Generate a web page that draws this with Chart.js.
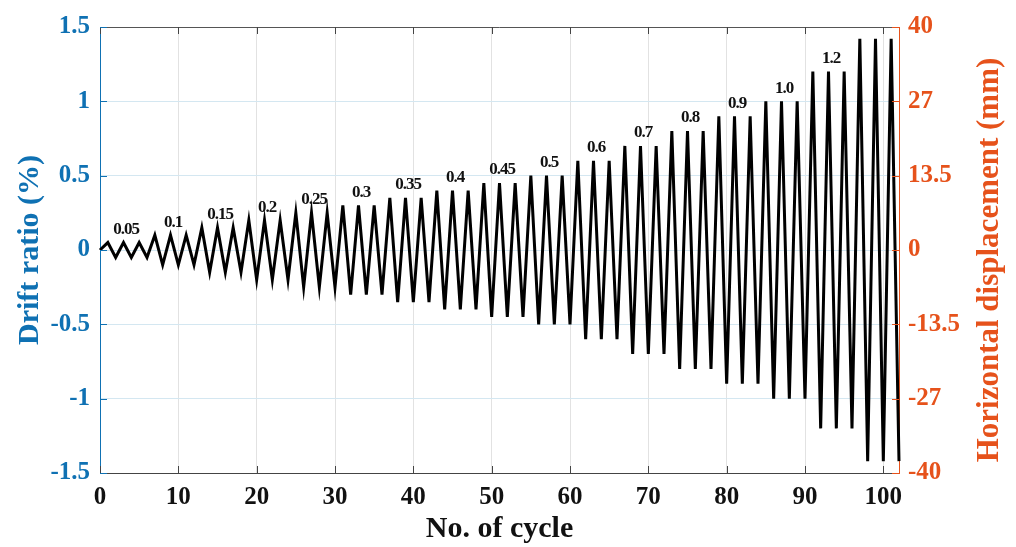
<!DOCTYPE html>
<html>
<head>
<meta charset="utf-8">
<script src="https://cdn.jsdelivr.net/npm/chart.js@4.4.1/dist/chart.umd.min.js"></script>
<style>
  html, body { margin: 0; padding: 0; background: #fff; }
  #wrap { width: 1016px; height: 547px; }
</style>
</head>
<body>
<div id="wrap"><canvas id="protocolChart" width="1016" height="547"></canvas></div>
<script>
// Drift ratio (%) at every half-cycle turning point, one row per loading level
const driftPeaks = [
  0,
  0.05, -0.05, 0.05, -0.05, 0.05, -0.05,
  0.1, -0.1, 0.1, -0.1, 0.1, -0.1,
  0.15, -0.15, 0.15, -0.15, 0.15, -0.15,
  0.2, -0.2, 0.2, -0.2, 0.2, -0.2,
  0.25, -0.25, 0.25, -0.25, 0.25, -0.25,
  0.3, -0.3, 0.3, -0.3, 0.3, -0.3,
  0.35, -0.35, 0.35, -0.35, 0.35, -0.35,
  0.4, -0.4, 0.4, -0.4, 0.4, -0.4,
  0.45, -0.45, 0.45, -0.45, 0.45, -0.45,
  0.5, -0.5, 0.5, -0.5, 0.5, -0.5,
  0.6, -0.6, 0.6, -0.6, 0.6, -0.6,
  0.7, -0.7, 0.7, -0.7, 0.7, -0.7,
  0.8, -0.8, 0.8, -0.8, 0.8, -0.8,
  0.9, -0.9, 0.9, -0.9, 0.9, -0.9,
  1.0, -1.0, 1.0, -1.0, 1.0, -1.0,
  1.2, -1.2, 1.2, -1.2, 1.2, -1.2,
  1.42, -1.42, 1.42, -1.42, 1.42, -1.42
];

// level annotations, written over the middle peak of each level
const levelNames = ["0.05", "0.1", "0.15", "0.2", "0.25", "0.3", "0.35", "0.4",
  "0.45", "0.5", "0.6", "0.7", "0.8", "0.9", "1.0", "1.2"];
const levelValues = [0.05, 0.1, 0.15, 0.2, 0.25, 0.3, 0.35, 0.4,
  0.45, 0.5, 0.6, 0.7, 0.8, 0.9, 1.0, 1.2];
const levelCycles = [3, 9, 15, 21, 27, 33, 39, 45, 51, 57, 63, 69, 75, 81, 87, 93];

const cycleTicks = [0, 10, 20, 30, 40, 50, 60, 70, 80, 90, 100];
const driftTicks = [-1.5, -1, -0.5, 0, 0.5, 1, 1.5];
const driftTickLabels = ["-1.5", "-1", "-0.5", "0", "0.5", "1", "1.5"];
const dispTicks = [-40.5, -27, -13.5, 0, 13.5, 27, 40.5];
const dispTickLabels = ["-40", "-27", "-13.5", "0", "13.5", "27", "40"];

const SERIF = "'Liberation Serif', 'Times New Roman', serif";
const BLUE = "#0f71b3";
const ORANGE = "#e6521b";

const points = driftPeaks.map((v, i) => ({ x: i, y: v }));

// inward tick marks, top frame line and the right-hand title
const framePlugin = {
  id: "frame",
  afterDraw(chart) {
    const { ctx, chartArea: a, scales } = chart;
    ctx.save();
    ctx.lineWidth = 1;

    ctx.strokeStyle = "#555";
    ctx.beginPath();
    ctx.moveTo(a.left, a.top + 0.5);
    ctx.lineTo(a.right, a.top + 0.5);
    ctx.stroke();

    ctx.strokeStyle = "#444";
    cycleTicks.forEach(v => {
      const px = Math.round(scales.x.getPixelForValue(v)) + 0.5;
      ctx.beginPath();
      ctx.moveTo(px, a.bottom);
      ctx.lineTo(px, a.bottom - 7);
      ctx.moveTo(px, a.top);
      ctx.lineTo(px, a.top + 7);
      ctx.stroke();
    });

    ctx.strokeStyle = BLUE;
    driftTicks.forEach(v => {
      const py = Math.round(scales.y.getPixelForValue(v)) + 0.5;
      ctx.beginPath();
      ctx.moveTo(a.left, py);
      ctx.lineTo(a.left + 7, py);
      ctx.stroke();
    });

    ctx.strokeStyle = ORANGE;
    dispTicks.forEach(v => {
      const py = Math.round(scales.y2.getPixelForValue(v)) + 0.5;
      ctx.beginPath();
      ctx.moveTo(a.right, py);
      ctx.lineTo(a.right - 7, py);
      ctx.stroke();
    });

    ctx.translate(990, (a.top + a.bottom) / 2 + 10);
    ctx.rotate(-Math.PI / 2);
    ctx.fillStyle = ORANGE;
    ctx.font = "bold 31px " + SERIF;
    ctx.textAlign = "center";
    ctx.textBaseline = "middle";
    ctx.fillText("Horizontal displacement (mm)", 0, 0);
    ctx.restore();
  }
};

// drift level numbers above each group of three cycles
const levelLabelPlugin = {
  id: "levelLabels",
  afterDatasetsDraw(chart) {
    const { ctx, scales } = chart;
    ctx.save();
    ctx.fillStyle = "#111";
    ctx.font = "bold 17px " + SERIF;
    ctx.letterSpacing = "-1px";
    ctx.textAlign = "center";
    ctx.textBaseline = "middle";
    levelNames.forEach((name, k) => {
      const px = scales.x.getPixelForValue(levelCycles[k]) + 2.5;
      const py = scales.y.getPixelForValue(levelValues[k]) - 13;
      ctx.fillText(name, px, py);
    });
    ctx.restore();
  }
};

new Chart(document.getElementById("protocolChart"), {
  type: "scatter",
  data: {
    datasets: [{
      data: points,
      showLine: true,
      borderColor: "#000",
      borderWidth: 3,
      pointRadius: 0,
      fill: false,
      tension: 0,
      clip: false
    }]
  },
  options: {
    responsive: false,
    animation: false,
    layout: { padding: { top: 27, left: 0, right: 0, bottom: 0 } },
    plugins: { legend: { display: false }, tooltip: { enabled: false } },
    scales: {
      x: {
        type: "linear",
        position: "bottom",
        min: 0,
        max: 102,
        afterBuildTicks: s => { s.ticks = cycleTicks.map(v => ({ value: v })); },
        afterFit: s => { s.height = 74; },
        grid: { color: "#e2e2e2", drawTicks: false },
        border: { color: "#444", width: 1 },
        ticks: { color: "#111", padding: 10, maxRotation: 0, font: { family: SERIF, size: 25, weight: "bold" } },
        title: {
          display: true, text: "No. of cycle", color: "#111",
          font: { family: SERIF, size: 30, weight: "bold" }, padding: { top: 0, bottom: 0 }
        }
      },
      y: {
        type: "linear",
        position: "left",
        min: -1.5,
        max: 1.5,
        afterBuildTicks: s => { s.ticks = driftTicks.map(v => ({ value: v })); },
        afterFit: s => { s.width = 100; },
        grid: { color: "#d4e7f1", drawTicks: false },
        border: { color: BLUE, width: 1 },
        ticks: {
          color: BLUE, padding: 10, font: { family: SERIF, size: 25, weight: "bold" },
          callback: (v, i) => driftTickLabels[i]
        },
        title: {
          display: true, text: "Drift ratio (%)", color: BLUE,
          font: { family: SERIF, size: 30, weight: "bold" }, padding: { top: 12, bottom: 0 }
        }
      },
      y2: {
        type: "linear",
        position: "right",
        min: -40.5,
        max: 40.5,
        afterBuildTicks: s => { s.ticks = dispTicks.map(v => ({ value: v })); },
        afterFit: s => { s.width = 117; },
        grid: { display: false, drawTicks: false },
        border: { color: ORANGE, width: 1 },
        ticks: {
          color: ORANGE, padding: 9, font: { family: SERIF, size: 25, weight: "bold" },
          callback: (v, i) => dispTickLabels[i]
        }
      }
    }
  },
  plugins: [framePlugin, levelLabelPlugin]
});
</script>
</body>
</html>
